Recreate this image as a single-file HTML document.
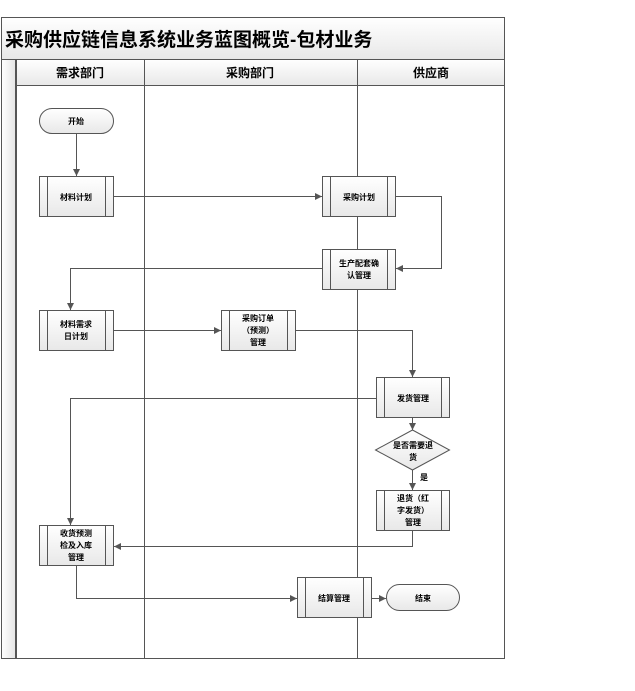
<!DOCTYPE html><html><head><meta charset="utf-8"><style>body{margin:0;background:#fff}</style></head><body>
<svg width="635" height="686" xmlns="http://www.w3.org/2000/svg" font-family="Liberation Sans, Noto Sans CJK SC, sans-serif">
<defs>
<linearGradient id="g" x1="0" y1="0" x2="0" y2="1"><stop offset="0" stop-color="#fff"/><stop offset="1" stop-color="#e8e8e8"/></linearGradient>
<linearGradient id="h" x1="0" y1="0" x2="1" y2="0"><stop offset="0" stop-color="#fff"/><stop offset="1" stop-color="#e4e4e4"/></linearGradient>
<marker id="a" markerWidth="8" markerHeight="8" refX="7" refY="4" orient="auto" markerUnits="userSpaceOnUse"><path d="M0,0.5 L7,4 L0,7.5 Z" fill="#555"/></marker>
</defs>
<rect x="1.5" y="17.5" width="503" height="641" fill="#fff" stroke="#555"/>
<rect x="1.5" y="17.5" width="503" height="42" fill="url(#g)" stroke="#555"/>
<text x="5" y="46" font-size="19" font-weight="bold">采购供应链信息系统业务蓝图概览-包材业务</text>
<rect x="1.5" y="59.5" width="14.5" height="599" fill="url(#h)" stroke="#555"/>
<rect x="16" y="59.5" width="488.5" height="26" fill="url(#g)" stroke="#555"/>
<g stroke="#555" fill="none">
<line x1="16" y1="59.5" x2="16" y2="658" stroke-width="2"/>
<line x1="144.5" y1="59.5" x2="144.5" y2="658"/><line x1="357.5" y1="59.5" x2="357.5" y2="658"/>
</g>
<g font-size="12" font-weight="bold" text-anchor="middle"><text x="80" y="77">需求部门</text><text x="250" y="77">采购部门</text><text x="431" y="77">供应商</text></g>
<g stroke="#555" fill="none" marker-end="url(#a)">
<path d="M76.5,133 V176"/>
<path d="M113,196.5 H322"/>
<path d="M395,196.5 H441.5 V268.5 H396"/>
<path d="M322,268.5 H70.5 V310"/>
<path d="M113,330.5 H221"/>
<path d="M295,330.5 H412.5 V377"/>
<path d="M376,398.5 H70.5 V525"/>
<path d="M412.5,417 V430"/>
<path d="M412.5,470 V490"/>
<path d="M412.5,530 V546.5 H114"/>
<path d="M76.5,565 V598.5 H297"/>
<path d="M371,598.5 H386"/>
</g>
<g stroke="#555" fill="url(#g)">
<rect x="39.5" y="108.5" width="74" height="25" rx="12.5"/>
<rect x="386.5" y="584.5" width="73" height="26" rx="13"/>
<polygon points="412.5,430 449.5,450 412.5,470 375.5,450"/>
</g>
<g stroke="#555" fill="none">
<rect x="39.5" y="176.5" width="74" height="40" fill="url(#g)"/><path d="M47.5,176.5V216.5M105.5,176.5V216.5"/>
<rect x="322.5" y="176.5" width="73" height="40" fill="url(#g)"/><path d="M330.5,176.5V216.5M387.5,176.5V216.5"/>
<rect x="322.5" y="249.5" width="73" height="40" fill="url(#g)"/><path d="M330.5,249.5V289.5M387.5,249.5V289.5"/>
<rect x="39.5" y="310.5" width="74" height="40" fill="url(#g)"/><path d="M47.5,310.5V350.5M105.5,310.5V350.5"/>
<rect x="221.5" y="310.5" width="74" height="40" fill="url(#g)"/><path d="M229.5,310.5V350.5M287.5,310.5V350.5"/>
<rect x="376.5" y="377.5" width="73" height="40" fill="url(#g)"/><path d="M384.5,377.5V417.5M441.5,377.5V417.5"/>
<rect x="376.5" y="490.5" width="73" height="40" fill="url(#g)"/><path d="M384.5,490.5V530.5M441.5,490.5V530.5"/>
<rect x="39.5" y="525.5" width="74" height="40" fill="url(#g)"/><path d="M47.5,525.5V565.5M105.5,525.5V565.5"/>
<rect x="297.5" y="577.5" width="74" height="40" fill="url(#g)"/><path d="M305.5,577.5V617.5M363.5,577.5V617.5"/>
</g>
<g font-size="8" font-weight="bold" text-anchor="middle">
<text x="76" y="124">开始</text>
<text x="76" y="200">材料计划</text>
<text x="359" y="200">采购计划</text>
<text x="359" y="266">生产配套确</text><text x="359" y="278">认管理</text>
<text x="76" y="327">材料需求</text><text x="76" y="339">日计划</text>
<text x="258" y="321">采购订单</text><text x="258" y="333">（预测）</text><text x="258" y="345">管理</text>
<text x="413" y="401">发货管理</text>
<text x="413" y="448">是否需要退</text><text x="413" y="460">货</text>
<text x="424" y="480">是</text>
<text x="413" y="501">退货（红</text><text x="413" y="513">字发货）</text><text x="413" y="525">管理</text>
<text x="76" y="536">收货预测</text><text x="76" y="548">检及入库</text><text x="76" y="560">管理</text>
<text x="334" y="601">结算管理</text>
<text x="423" y="601">结束</text>
</g>
</svg>
</body></html>
